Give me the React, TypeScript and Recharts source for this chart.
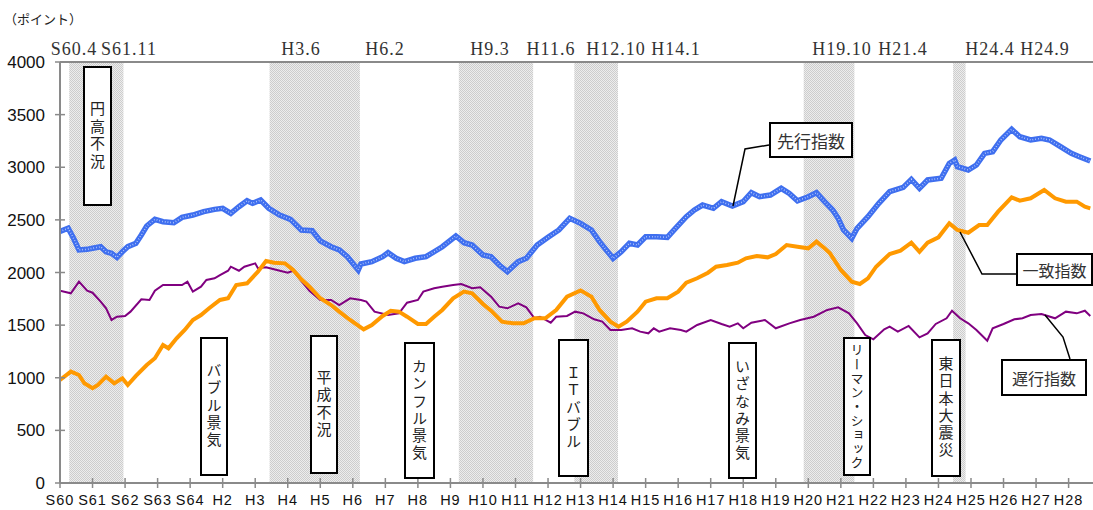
import React from 'react';
import { LineChart, Line, XAxis, YAxis, ReferenceArea, ReferenceLine } from 'recharts';

// ---------- DATA ----------
const yearLabels = [
  'S60', 'S61', 'S62', 'S63', 'S64', 'H2', 'H3', 'H4', 'H5', 'H6', 'H7', 'H8', 'H9', 'H10', 'H11', 'H12',
  'H13', 'H14', 'H15', 'H16', 'H17', 'H18', 'H19', 'H20', 'H21', 'H22', 'H23', 'H24', 'H25', 'H26', 'H27', 'H28',
];
const yTicks = [0, 500, 1000, 1500, 2000, 2500, 3000, 3500, 4000];

// months counted from S60.1 (Jan 1985)
const leadingMonths = [0, 3, 5, 7, 10, 12, 15, 17, 19, 21, 23, 25, 28, 30, 32, 35, 38, 42, 45, 49, 53, 57, 60, 63, 66, 69, 71, 74, 77, 81, 85, 89, 93, 96, 100, 103, 106, 110, 111, 115, 119, 121, 124, 127, 131, 135, 138, 141, 146, 149, 152, 156, 159, 162, 165, 169, 172, 176, 180, 184, 188, 192, 196, 199, 202, 204, 207, 210, 213, 216, 220, 224, 227, 231, 234, 237, 241, 244, 248, 252, 255, 258, 262, 266, 269, 272, 276, 279, 282, 285, 287, 289, 292, 294, 298, 302, 306, 311, 314, 317, 320, 325, 328, 330, 331, 335, 338, 341, 344, 347, 351, 354, 358, 362, 365, 369, 373, 376, 380];
const leadingValues = [2390, 2420, 2325, 2214, 2220, 2230, 2245, 2197, 2182, 2144, 2197, 2245, 2277, 2356, 2442, 2505, 2483, 2473, 2524, 2546, 2578, 2600, 2610, 2562, 2625, 2682, 2657, 2689, 2610, 2546, 2505, 2404, 2397, 2300, 2245, 2214, 2150, 2024, 2081, 2103, 2150, 2188, 2135, 2103, 2135, 2150, 2197, 2245, 2347, 2283, 2261, 2166, 2150, 2071, 2008, 2103, 2135, 2261, 2334, 2404, 2515, 2467, 2404, 2293, 2197, 2135, 2197, 2277, 2261, 2340, 2340, 2334, 2420, 2530, 2594, 2641, 2610, 2673, 2632, 2673, 2758, 2720, 2736, 2800, 2752, 2682, 2720, 2758, 2673, 2594, 2515, 2404, 2325, 2420, 2530, 2657, 2768, 2809, 2885, 2800, 2879, 2895, 3037, 3069, 3005, 2974, 3021, 3132, 3148, 3259, 3360, 3290, 3259, 3275, 3259, 3196, 3132, 3100, 3059];

const coincidentMonths = [0, 4, 7, 9, 12, 14, 17, 20, 23, 25, 28, 32, 35, 38, 40, 43, 46, 49, 52, 55, 59, 62, 65, 69, 73, 76, 79, 83, 86, 89, 92, 96, 100, 103, 107, 112, 115, 119, 122, 125, 128, 132, 135, 138, 141, 145, 149, 152, 156, 159, 163, 167, 171, 175, 179, 183, 187, 192, 196, 199, 203, 206, 209, 213, 216, 220, 224, 228, 231, 235, 239, 242, 246, 250, 253, 257, 261, 264, 268, 272, 276, 279, 282, 284, 288, 292, 295, 298, 301, 306, 310, 314, 317, 320, 324, 328, 331, 335, 339, 342, 346, 351, 354, 358, 363, 367, 371, 375, 378, 380];
const coincidentValues = [979, 1058, 1026, 947, 900, 931, 1010, 947, 995, 931, 1017, 1121, 1185, 1311, 1280, 1375, 1454, 1549, 1596, 1660, 1739, 1755, 1881, 1897, 2008, 2109, 2093, 2087, 2024, 1935, 1865, 1755, 1691, 1628, 1549, 1460, 1501, 1587, 1637, 1628, 1580, 1511, 1511, 1580, 1644, 1755, 1818, 1802, 1701, 1637, 1533, 1517, 1517, 1565, 1565, 1644, 1770, 1830, 1770, 1644, 1533, 1485, 1533, 1628, 1723, 1755, 1755, 1818, 1903, 1945, 1998, 2055, 2071, 2093, 2135, 2157, 2144, 2176, 2261, 2245, 2230, 2293, 2230, 2182, 2024, 1913, 1891, 1945, 2055, 2176, 2207, 2283, 2197, 2283, 2334, 2467, 2404, 2378, 2451, 2451, 2578, 2714, 2682, 2705, 2784, 2705, 2673, 2673, 2625, 2610];

const laggingMonths = [0, 4, 7, 10, 12, 15, 17, 19, 21, 24, 26, 30, 33, 35, 38, 42, 45, 47, 49, 52, 54, 57, 59, 62, 63, 66, 68, 72, 73, 76, 80, 84, 86, 89, 92, 96, 100, 103, 107, 111, 113, 116, 121, 125, 128, 132, 134, 138, 141, 145, 148, 152, 155, 159, 162, 165, 169, 172, 175, 177, 181, 183, 187, 190, 193, 197, 200, 203, 207, 211, 214, 217, 219, 221, 225, 229, 231, 235, 240, 244, 247, 250, 252, 255, 260, 264, 269, 273, 278, 283, 287, 291, 294, 297, 300, 304, 306, 309, 313, 317, 320, 323, 327, 329, 332, 335, 338, 342, 344, 348, 352, 355, 358, 362, 367, 371, 375, 378, 380];
const laggingValues = [1827, 1802, 1913, 1827, 1808, 1723, 1660, 1549, 1580, 1587, 1628, 1745, 1739, 1827, 1881, 1881, 1881, 1913, 1818, 1865, 1929, 1945, 1976, 2017, 2055, 2017, 2055, 2087, 2040, 2049, 2024, 1998, 2017, 1920, 1826, 1739, 1739, 1691, 1755, 1739, 1723, 1628, 1596, 1612, 1713, 1739, 1818, 1850, 1865, 1881, 1891, 1850, 1859, 1770, 1675, 1660, 1707, 1669, 1565, 1580, 1523, 1580, 1587, 1628, 1612, 1555, 1533, 1454, 1454, 1470, 1438, 1422, 1470, 1438, 1470, 1454, 1438, 1501, 1549, 1511, 1485, 1517, 1470, 1523, 1549, 1470, 1517, 1549, 1580, 1644, 1669, 1612, 1517, 1406, 1365, 1460, 1485, 1438, 1492, 1384, 1422, 1511, 1565, 1637, 1565, 1517, 1454, 1352, 1470, 1511, 1555, 1565, 1596, 1606, 1565, 1628, 1612, 1637, 1587];

const recessionStarts = [3.4, 77.3, 147.1, 189.7, 274.3, 329.4];
const recessionEnds = [23.4, 110.6, 174.5, 205.8, 293, 334];

const turningLabels = ['S60.4', 'S61.11', 'H3.6', 'H6.2', 'H9.3', 'H11.6', 'H12.10', 'H14.1', 'H19.10', 'H21.4', 'H24.4', 'H24.9'];
const phaseNames = ['円高不況', 'バブル景気', '平成不況', 'カンフル景気', 'ＩＴバブル', 'いざなみ景気', 'リーマン・ショック', '東日本大震災'];
const seriesNames = ['先行指数', '一致指数', '遅行指数'];
const yAxisTitle = '（ポイント）';

// ---------- LAYOUT ----------
const W = 1093;
const H = 510;
const turningLabelX = [74, 129, 301, 385, 490, 551, 616, 676, 842, 903, 990, 1045];
const phaseBoxes = [
  { l: 83, t: 66, w: 29, h: 140, fs: 15, ls: 2.6 },
  { l: 200, t: 337, w: 28, h: 139, fs: 15, ls: 2.3 },
  { l: 310, t: 335, w: 28, h: 139, fs: 15, ls: 2.3 },
  { l: 404, t: 342, w: 31, h: 137, fs: 15, ls: 2.2 },
  { l: 558, t: 339, w: 31, h: 138, fs: 15, ls: 2.3 },
  { l: 728, t: 342, w: 29, h: 137, fs: 15, ls: 2.2 },
  { l: 843, t: 337, w: 28, h: 139, fs: 13, ls: 1.1 },
  { l: 931, t: 339, w: 30, h: 138, fs: 15, ls: 2.2 },
];
const calloutBoxes = [
  { l: 769, t: 122, w: 84, h: 36, fs: 17 },
  { l: 1016, t: 253, w: 77, h: 33, fs: 16 },
  { l: 1001, t: 359, w: 86, h: 37, fs: 16 },
];
const leaderLines = [
  '769,145 745,149 733,206',
  '1016,274 982,274 960,232',
  '1070,359 1063,337 1045,315',
];

const leadingData = leadingMonths.map((m, i) => ({ m, v: leadingValues[i] }));
const coincidentData = coincidentMonths.map((m, i) => ({ m, v: coincidentValues[i] }));
const laggingData = laggingMonths.map((m, i) => ({ m, v: laggingValues[i] }));
const yearTicks = yearLabels.map((_, i) => i * 12);

const AXIS = '#8a8a8a';
const SANS = '"Liberation Sans", Arial, sans-serif';
const JP = '"Noto Sans CJK JP", sans-serif';

const XTick = (props: any) => {
  const { x, y, payload } = props;
  const label = yearLabels[Math.round(payload.value / 12)];
  return (
    <g>
      <line x1={x} x2={x} y1={y - 5} y2={y + 5} stroke={AXIS} strokeWidth={1.5} />
      <text x={x} y={y + 22} textAnchor="middle" fontSize={14.5} letterSpacing={1} fontFamily={SANS} fill="#111">
        {label}
      </text>
    </g>
  );
};

const YTick = (props: any) => {
  const { x, y, payload } = props;
  return (
    <g>
      <line x1={x - 5} x2={x + 5} y1={y} y2={y} stroke={AXIS} strokeWidth={1.5} />
      <text x={x - 15} y={y + 6} textAnchor="end" fontSize={17} fontFamily={SANS} fill="#111">
        {payload.value}
      </text>
    </g>
  );
};

export default function App() {
  return (
    <div style={{ position: 'absolute', left: 0, top: 0, width: W, height: H, background: '#fff', overflow: 'hidden' }}>
      <LineChart width={W} height={H} margin={{ top: 62, right: 0, bottom: 0, left: 0 }}>
        <defs>
          <pattern id="shade" width="2" height="2" patternUnits="userSpaceOnUse">
            <rect width="2" height="2" fill="#ededed" />
            <rect width="1" height="1" fill="#cdcdcd" />
            <rect x="1" y="1" width="1" height="1" fill="#cdcdcd" />
          </pattern>
        </defs>
        <XAxis
          type="number"
          dataKey="m"
          domain={[0, 381]}
          ticks={yearTicks}
          interval={0}
          height={27}
          allowDataOverflow
          axisLine={{ stroke: AXIS, strokeWidth: 2 }}
          tickLine={false}
          tickSize={0}
          tickMargin={0}
          tick={(p: any) => <XTick {...p} />}
        />
        <YAxis
          type="number"
          domain={[0, 4000]}
          ticks={yTicks}
          interval={0}
          width={60}
          axisLine={{ stroke: AXIS, strokeWidth: 2 }}
          tickLine={false}
          tickSize={0}
          tickMargin={0}
          tick={(p: any) => <YTick {...p} />}
        />
        {recessionStarts.map((s, i) => (
          <ReferenceArea key={i} x1={s} x2={recessionEnds[i]} y1={0} y2={4000} fill="url(#shade)" fillOpacity={1} stroke="none" />
        ))}
        <ReferenceLine y={4000} stroke={AXIS} strokeWidth={2} />
        <Line data={laggingData} dataKey="v" name={seriesNames[2]} type="linear" stroke="#800080" strokeWidth={2} dot={false} activeDot={false} isAnimationActive={false} />
        <Line data={coincidentData} dataKey="v" name={seriesNames[1]} type="linear" stroke="#FF9900" strokeWidth={4} dot={false} activeDot={false} isAnimationActive={false} />
        <Line data={leadingData} dataKey="v" name={seriesNames[0]} type="linear" stroke="#3F6FEF" strokeWidth={5.5} dot={false} activeDot={false} isAnimationActive={false} />
        <Line data={leadingData} dataKey="v" name={seriesNames[0] + '_dots'} type="linear" stroke="#dfe8ff" strokeWidth={1.6} strokeDasharray="0.6 2.2" dot={false} activeDot={false} isAnimationActive={false} legendType="none" />
      </LineChart>

      <svg width={W} height={H} style={{ position: 'absolute', left: 0, top: 0, pointerEvents: 'none' }}>
        <text x={4} y={24} fontSize={13} fontFamily={JP} fill="#222">{yAxisTitle}</text>
        {turningLabels.map((t, i) => (
          <text key={t} x={turningLabelX[i]} y={55} textAnchor="middle" fontSize={18} letterSpacing={1} fontFamily='"Liberation Serif", serif' fill="#333">
            {t}
          </text>
        ))}
        {leaderLines.map((pts, i) => (
          <polyline key={i} points={pts} fill="none" stroke="#000" strokeWidth={1.5} />
        ))}
      </svg>

      {phaseNames.map((name, i) => {
        const b = phaseBoxes[i];
        return (
          <div
            key={name}
            style={{
              position: 'absolute', left: b.l, top: b.t, width: b.w, height: b.h, boxSizing: 'border-box',
              border: '2px solid #000', background: '#fff', display: 'flex', alignItems: 'center', justifyContent: 'center',
            }}
          >
            <span style={{ writingMode: 'vertical-rl', fontFamily: JP, fontSize: b.fs, letterSpacing: b.ls, lineHeight: 1, color: '#222' }}>
              {name}
            </span>
          </div>
        );
      })}

      {seriesNames.map((name, i) => {
        const b = calloutBoxes[i];
        return (
          <div
            key={name}
            style={{
              position: 'absolute', left: b.l, top: b.t, width: b.w, height: b.h, boxSizing: 'border-box',
              border: '2px solid #000', background: '#fff', display: 'flex', alignItems: 'center', justifyContent: 'center',
              fontFamily: JP, fontSize: b.fs, color: '#333', lineHeight: 1,
            }}
          >
            {name}
          </div>
        );
      })}
    </div>
  );
}
